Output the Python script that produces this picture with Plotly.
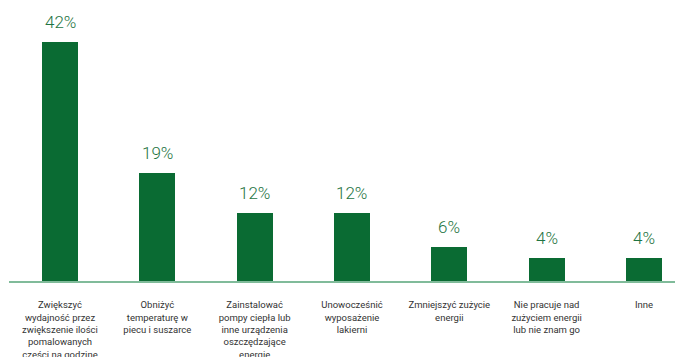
import plotly.graph_objects as go

categories = [
    "Zwiększyć<br>wydajność przez<br>zwiększenie ilości<br>pomalowanych<br>części na godzinę",
    "Obniżyć<br>temperaturę w<br>piecu i suszarce",
    "Zainstalować<br>pompy ciepła lub<br>inne urządzenia<br>oszczędzające<br>energie",
    "Unowocześnić<br>wyposażenie<br>lakierni",
    "Zmniejszyć zużycie<br>energii",
    "Nie pracuje nad<br>zużyciem energii<br>lub nie znam go",
    "Inne",
]
values = [42, 19, 12, 12, 6, 4, 4]
value_labels = ["42%", "19%", "12%", "12%", "6%", "4%", "4%"]

FONT = "Roboto, Liberation Sans, sans-serif"
BAR = "#0a6b33"
TXT = "#1e7442"

fig = go.Figure()
fig.add_trace(go.Bar(
    x=list(range(len(categories))),
    y=values,
    marker=dict(color=BAR, line=dict(width=0)),
    width=0.37,
    hoverinfo="skip",
))

for i, (v, t) in enumerate(zip(values, value_labels)):
    fig.add_annotation(
        x=i, y=v, text=t, showarrow=False,
        yanchor="bottom", yshift=8,
        font=dict(family=FONT, size=17, color=TXT, weight=300),
    )

# page body has an 8px default margin; figure sized/offset to compensate
fig.update_layout(
    width=675, height=349,
    margin=dict(l=1, r=0, t=0, b=75.5),
    paper_bgcolor="white", plot_bgcolor="white",
    showlegend=False,
    bargap=0,
    xaxis=dict(
        range=[-0.524, 6.401],
        tickmode="array",
        tickvals=list(range(len(categories))),
        ticktext=categories,
        tickfont=dict(family=FONT, size=9.5, color="#333333"),
        showgrid=False, zeroline=False,
        showline=True, linecolor="#80bb9a", linewidth=2,
        ticks="", ticklabelstandoff=14,
        automargin=False,
        fixedrange=True,
    ),
    yaxis=dict(
        range=[0, 273.5 / 5.7], visible=False, showgrid=False, zeroline=False,
        fixedrange=True, automargin=False,
    ),
)

fig.write_html("out.html")
